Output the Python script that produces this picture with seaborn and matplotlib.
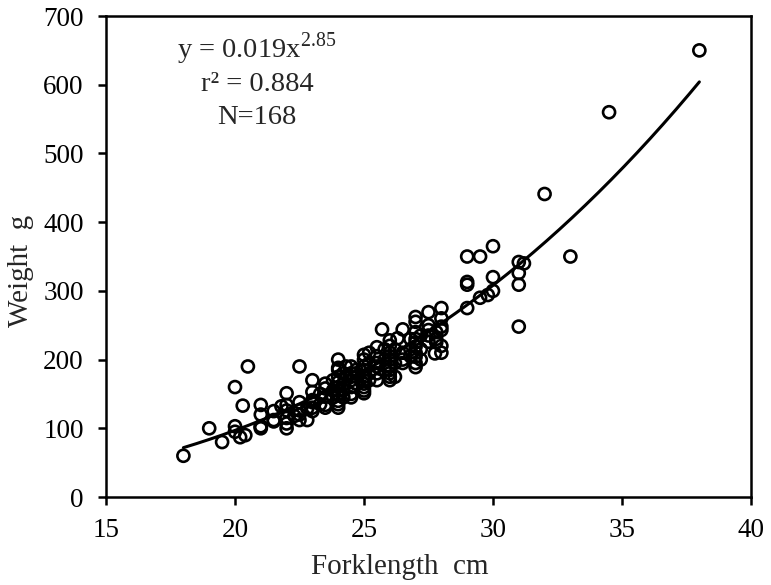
import numpy as np
import pandas as pd
import matplotlib
matplotlib.use("Agg")
import matplotlib.pyplot as plt
import seaborn as sns

# ---- data ----
forklength = [
    18, 19, 19.5, 20, 20, 20, 20.2, 20.3, 20.4, 20.5,
    21, 21, 21, 21, 21, 21.5, 21.5, 21.5, 21.8,
    22, 22, 22, 22, 22, 22, 22.3,
    22.5, 22.5, 22.5, 22.5, 22.5, 22.8, 22.8,
    23, 23, 23, 23, 23, 23, 23.3, 23.3,
    23.5, 23.5, 23.5, 23.5, 23.5, 23.8, 23.8, 23.8,
    24, 24, 24, 24, 24, 24, 24, 24, 24, 24, 24, 24,
    24.2, 24.2, 24.2, 24.2, 24.3,
    24.5, 24.5, 24.5, 24.5, 24.5, 24.5, 24.5, 24.7, 24.7, 24.7,
    25, 25, 25, 25, 25, 25, 25, 25, 25, 25,
    25.2, 25.2, 25.2, 25.2,
    25.5, 25.5, 25.5, 25.5, 25.5, 25.5, 25.7, 25.8, 25.8, 25.8,
    26, 26, 26, 26, 26, 26, 26, 26, 26, 26,
    26.2, 26.2, 26.2, 26.3,
    26.5, 26.5, 26.5, 26.5, 26.8, 26.8, 26.8,
    27, 27, 27, 27, 27, 27, 27, 27, 27, 27,
    27.2, 27.2, 27.2,
    27.5, 27.5, 27.5, 27.5, 27.5, 27.75, 27.8, 27.8, 27.8,
    28, 28, 28, 28, 28, 28,
    29, 29, 29, 29, 29.5, 29.5, 29.8,
    30, 30, 30, 31, 31, 31, 31, 31.2,
    32, 33, 34.5, 38,
]
weight = [
    60, 100, 80, 160, 103, 95, 87, 133, 90, 190,
    134, 120, 103, 100, 102, 125, 112, 110, 132,
    151, 134, 126, 115, 107, 100, 118,
    190, 138, 126, 120, 112, 129, 112,
    170, 153, 141, 130, 125, 138, 135, 150,
    158, 146, 134, 130, 165, 145, 155, 170,
    200, 188, 167, 160, 150, 148, 140, 135, 130, 175, 185, 155,
    165, 155, 180, 145, 190,
    190, 175, 160, 150, 145, 170, 180, 180, 165, 185,
    207, 190, 175, 165, 151, 160, 185, 200, 155, 170,
    170, 195, 210, 180,
    218, 195, 205, 180, 170, 190, 244, 200, 185, 215,
    228, 210, 200, 185, 175, 170, 190, 220, 180, 205,
    195, 215, 175, 231,
    244, 210, 200, 195, 230, 215, 205,
    262, 255, 219, 204, 189, 240, 230, 195, 210, 225,
    235, 215, 200,
    269, 243, 226, 235, 250, 209, 240, 230, 225,
    275, 248, 243, 210, 220, 260,
    350, 313, 309, 275, 350, 290, 294,
    365, 320, 300, 342, 326, 309, 248, 340,
    441, 350, 560, 650,
]
fit_a = 0.019
fit_b = 2.85
fit_range = (18, 38)
x_ticks = [15, 20, 25, 30, 35, 40]
y_ticks = [0, 100, 200, 300, 400, 500, 600, 700]

df = pd.DataFrame({"Forklength": forklength, "Weight": weight})
xf = np.linspace(fit_range[0], fit_range[1], 200)
fit_df = pd.DataFrame({"Forklength": xf, "Weight": fit_a * xf ** fit_b})

sns.set_theme(style="ticks")
plt.rcParams["font.family"] = ["Liberation Serif", "DejaVu Serif"]
plt.rcParams["mathtext.fontset"] = "custom"
plt.rcParams["mathtext.rm"] = "Liberation Serif"

fig = plt.figure(figsize=(7.71, 5.85), dpi=100)
ax = fig.add_axes([0.1375, 0.1504, 0.8365, 0.8222])

sns.lineplot(data=fit_df, x="Forklength", y="Weight", ax=ax, color="black",
             linewidth=2.2, zorder=3)
sns.scatterplot(data=df, x="Forklength", y="Weight", ax=ax, s=75,
                facecolor="none", edgecolor="black", linewidth=1.9,
                marker="o", zorder=4)

ax.set_xlim(15, 40)
ax.set_ylim(0, 700)
ax.set_xticks(x_ticks)
ax.set_yticks(y_ticks)
ax.tick_params(axis="both", labelsize=19.5, width=1.8, length=6, direction="out",
               colors="black")
ax.tick_params(axis="y", pad=10)
ax.tick_params(axis="x", pad=9)
for sp in ax.spines.values():
    sp.set_visible(True)
    sp.set_linewidth(1.8)
    sp.set_color("black")

ax.set_xlabel("Forklength  cm", fontsize=21)
ax.set_ylabel("Weight  g", fontsize=21)
ax.xaxis.set_label_coords(0.456, -0.118)
ax.yaxis.set_label_coords(-0.112, 0.47)

ax.text(0.234, 0.933, r"y = 0.019x$^{2.85}$", transform=ax.transAxes,
        ha="center", va="center", fontsize=20.5)
ax.text(0.234, 0.857, "r² = 0.884", transform=ax.transAxes,
        ha="center", va="center", fontsize=20.5)
ax.text(0.234, 0.788, "N=168", transform=ax.transAxes,
        ha="center", va="center", fontsize=20.5)

fig.savefig("out.png", dpi=100)
